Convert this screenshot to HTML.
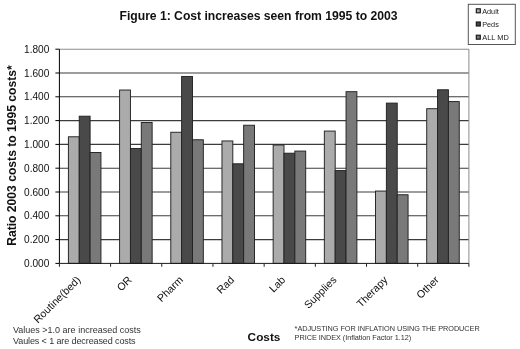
<!DOCTYPE html>
<html><head><meta charset="utf-8"><title>Figure 1</title>
<style>html,body{margin:0;padding:0;background:#fff;}body{width:520px;height:349px;overflow:hidden;position:relative;font-family:"Liberation Sans",sans-serif;}</style></head>
<body>
<svg width="520" height="349" viewBox="0 0 520 349" style="position:absolute;left:0;top:0;will-change:transform;opacity:0.999" font-family="Liberation Sans, sans-serif">
<rect x="0" y="0" width="520" height="349" fill="#fff"/>
<line x1="59.4" x2="468.9" y1="239.60" y2="239.60" stroke="#3c3c3c" stroke-width="1.1"/>
<line x1="59.4" x2="468.9" y1="215.80" y2="215.80" stroke="#3c3c3c" stroke-width="1.1"/>
<line x1="59.4" x2="468.9" y1="192.00" y2="192.00" stroke="#3c3c3c" stroke-width="1.1"/>
<line x1="59.4" x2="468.9" y1="168.20" y2="168.20" stroke="#3c3c3c" stroke-width="1.1"/>
<line x1="59.4" x2="468.9" y1="144.40" y2="144.40" stroke="#3c3c3c" stroke-width="1.1"/>
<line x1="59.4" x2="468.9" y1="120.60" y2="120.60" stroke="#3c3c3c" stroke-width="1.1"/>
<line x1="59.4" x2="468.9" y1="96.80" y2="96.80" stroke="#3c3c3c" stroke-width="1.1"/>
<line x1="59.4" x2="468.9" y1="73.00" y2="73.00" stroke="#3c3c3c" stroke-width="1.1"/>
<line x1="59.4" x2="468.9" y1="49.20" y2="49.20" stroke="#8c8c8c" stroke-width="1.1"/>
<line x1="468.9" x2="468.9" y1="49.2" y2="263.4" stroke="#8c8c8c" stroke-width="1"/>
<rect x="68.40" y="136.78" width="10.85" height="126.62" fill="#ababab" stroke="#222" stroke-width="0.95"/>
<rect x="79.25" y="116.20" width="10.85" height="147.20" fill="#494949" stroke="#222" stroke-width="0.95"/>
<rect x="90.10" y="152.49" width="10.85" height="110.91" fill="#797979" stroke="#222" stroke-width="0.95"/>
<rect x="119.59" y="90.02" width="10.85" height="173.38" fill="#ababab" stroke="#222" stroke-width="0.95"/>
<rect x="130.44" y="148.45" width="10.85" height="114.95" fill="#494949" stroke="#222" stroke-width="0.95"/>
<rect x="141.29" y="122.50" width="10.85" height="140.90" fill="#797979" stroke="#222" stroke-width="0.95"/>
<rect x="170.78" y="132.26" width="10.85" height="131.14" fill="#ababab" stroke="#222" stroke-width="0.95"/>
<rect x="181.62" y="76.45" width="10.85" height="186.95" fill="#494949" stroke="#222" stroke-width="0.95"/>
<rect x="192.47" y="139.76" width="10.85" height="123.64" fill="#797979" stroke="#222" stroke-width="0.95"/>
<rect x="221.96" y="140.95" width="10.85" height="122.45" fill="#ababab" stroke="#222" stroke-width="0.95"/>
<rect x="232.81" y="163.80" width="10.85" height="99.60" fill="#494949" stroke="#222" stroke-width="0.95"/>
<rect x="243.66" y="125.24" width="10.85" height="138.16" fill="#797979" stroke="#222" stroke-width="0.95"/>
<rect x="273.15" y="145.00" width="10.85" height="118.40" fill="#ababab" stroke="#222" stroke-width="0.95"/>
<rect x="284.00" y="153.21" width="10.85" height="110.19" fill="#494949" stroke="#222" stroke-width="0.95"/>
<rect x="294.85" y="151.06" width="10.85" height="112.34" fill="#797979" stroke="#222" stroke-width="0.95"/>
<rect x="324.34" y="131.07" width="10.85" height="132.33" fill="#ababab" stroke="#222" stroke-width="0.95"/>
<rect x="335.19" y="170.58" width="10.85" height="92.82" fill="#494949" stroke="#222" stroke-width="0.95"/>
<rect x="346.04" y="91.68" width="10.85" height="171.72" fill="#797979" stroke="#222" stroke-width="0.95"/>
<rect x="375.52" y="191.05" width="10.85" height="72.35" fill="#ababab" stroke="#222" stroke-width="0.95"/>
<rect x="386.38" y="103.11" width="10.85" height="160.29" fill="#494949" stroke="#222" stroke-width="0.95"/>
<rect x="397.22" y="194.74" width="10.85" height="68.66" fill="#797979" stroke="#222" stroke-width="0.95"/>
<rect x="426.71" y="108.70" width="10.85" height="154.70" fill="#ababab" stroke="#222" stroke-width="0.95"/>
<rect x="437.56" y="89.78" width="10.85" height="173.62" fill="#494949" stroke="#222" stroke-width="0.95"/>
<rect x="448.41" y="101.56" width="10.85" height="161.84" fill="#797979" stroke="#222" stroke-width="0.95"/>
<line x1="59.4" x2="59.4" y1="49.2" y2="263.4" stroke="#000" stroke-width="1"/>
<line x1="59.4" x2="468.9" y1="263.4" y2="263.4" stroke="#1a1a1a" stroke-width="1"/>
<line x1="55.4" x2="59.4" y1="263.40" y2="263.40" stroke="#000" stroke-width="1"/>
<text x="49.3" y="266.90" font-size="10.1" textLength="25.2" text-anchor="end" fill="#111">0.000</text>
<line x1="55.4" x2="59.4" y1="239.60" y2="239.60" stroke="#000" stroke-width="1"/>
<text x="49.3" y="243.10" font-size="10.1" textLength="25.2" text-anchor="end" fill="#111">0.200</text>
<line x1="55.4" x2="59.4" y1="215.80" y2="215.80" stroke="#000" stroke-width="1"/>
<text x="49.3" y="219.30" font-size="10.1" textLength="25.2" text-anchor="end" fill="#111">0.400</text>
<line x1="55.4" x2="59.4" y1="192.00" y2="192.00" stroke="#000" stroke-width="1"/>
<text x="49.3" y="195.50" font-size="10.1" textLength="25.2" text-anchor="end" fill="#111">0.600</text>
<line x1="55.4" x2="59.4" y1="168.20" y2="168.20" stroke="#000" stroke-width="1"/>
<text x="49.3" y="171.70" font-size="10.1" textLength="25.2" text-anchor="end" fill="#111">0.800</text>
<line x1="55.4" x2="59.4" y1="144.40" y2="144.40" stroke="#000" stroke-width="1"/>
<text x="49.3" y="147.90" font-size="10.1" textLength="25.2" text-anchor="end" fill="#111">1.000</text>
<line x1="55.4" x2="59.4" y1="120.60" y2="120.60" stroke="#000" stroke-width="1"/>
<text x="49.3" y="124.10" font-size="10.1" textLength="25.2" text-anchor="end" fill="#111">1.200</text>
<line x1="55.4" x2="59.4" y1="96.80" y2="96.80" stroke="#000" stroke-width="1"/>
<text x="49.3" y="100.30" font-size="10.1" textLength="25.2" text-anchor="end" fill="#111">1.400</text>
<line x1="55.4" x2="59.4" y1="73.00" y2="73.00" stroke="#000" stroke-width="1"/>
<text x="49.3" y="76.50" font-size="10.1" textLength="25.2" text-anchor="end" fill="#111">1.600</text>
<line x1="55.4" x2="59.4" y1="49.20" y2="49.20" stroke="#000" stroke-width="1"/>
<text x="49.3" y="52.70" font-size="10.1" textLength="25.2" text-anchor="end" fill="#111">1.800</text>
<line x1="59.40" x2="59.40" y1="263.4" y2="266.79999999999995" stroke="#222" stroke-width="1"/>
<line x1="110.59" x2="110.59" y1="263.4" y2="266.79999999999995" stroke="#222" stroke-width="1"/>
<line x1="161.78" x2="161.78" y1="263.4" y2="266.79999999999995" stroke="#222" stroke-width="1"/>
<line x1="212.96" x2="212.96" y1="263.4" y2="266.79999999999995" stroke="#222" stroke-width="1"/>
<line x1="264.15" x2="264.15" y1="263.4" y2="266.79999999999995" stroke="#222" stroke-width="1"/>
<line x1="315.34" x2="315.34" y1="263.4" y2="266.79999999999995" stroke="#222" stroke-width="1"/>
<line x1="366.52" x2="366.52" y1="263.4" y2="266.79999999999995" stroke="#222" stroke-width="1"/>
<line x1="417.71" x2="417.71" y1="263.4" y2="266.79999999999995" stroke="#222" stroke-width="1"/>
<line x1="468.90" x2="468.90" y1="263.4" y2="266.79999999999995" stroke="#222" stroke-width="1"/>
<text transform="translate(76.29,275.6) rotate(-45)" font-size="10.6" text-anchor="end" fill="#111" y="7">Routine(bed)</text>
<text transform="translate(127.48,275.6) rotate(-45)" font-size="10.6" text-anchor="end" fill="#111" y="7">OR</text>
<text transform="translate(178.67,275.6) rotate(-45)" font-size="10.6" text-anchor="end" fill="#111" y="7">Pharm</text>
<text transform="translate(229.86,275.6) rotate(-45)" font-size="10.6" text-anchor="end" fill="#111" y="7">Rad</text>
<text transform="translate(281.04,275.6) rotate(-45)" font-size="10.6" text-anchor="end" fill="#111" y="7">Lab</text>
<text transform="translate(332.23,275.6) rotate(-45)" font-size="10.6" text-anchor="end" fill="#111" y="7">Supplies</text>
<text transform="translate(383.42,275.6) rotate(-45)" font-size="10.6" text-anchor="end" fill="#111" y="7">Therapy</text>
<text transform="translate(434.61,275.6) rotate(-45)" font-size="10.6" text-anchor="end" fill="#111" y="7">Other</text>
<text x="258.5" y="20.1" font-size="12.2" textLength="278" font-weight="bold" text-anchor="middle" fill="#111">Figure 1: Cost increases seen from 1995 to 2003</text>
<text transform="translate(16.3,155.5) rotate(-90)" font-size="12.15" textLength="180.6" font-weight="bold" text-anchor="middle" fill="#111">Ratio 2003 costs to 1995 costs*</text>
<text x="247.6" y="341.2" font-size="11.8" textLength="32.8" font-weight="bold" fill="#111">Costs</text>
<text x="13" y="332.5" font-size="9" fill="#333">Values &gt;1.0 are increased costs</text>
<text x="13" y="344" font-size="9" fill="#333" textLength="122.6">Vaules &lt; 1 are decreased costs</text>
<text x="294.6" y="330.7" font-size="7.3" textLength="185.1" fill="#333">*ADJUSTING FOR INFLATION USING THE PRODUCER</text>
<text x="294.6" y="340.3" font-size="7.3" textLength="116.6" fill="#333">PRICE INDEX (Inflation Factor 1.12)</text>
<rect x="468.3" y="4.3" width="47" height="40.2" fill="#fff" stroke="#555" stroke-width="1"/>
<rect x="476.3" y="8.80" width="4" height="4" fill="#ababab" stroke="#111" stroke-width="1.1"/>
<text x="482.2" y="13.80" font-size="7.8" textLength="16.6" lengthAdjust="spacingAndGlyphs" fill="#222">Adult</text>
<rect x="476.3" y="22.00" width="4" height="4" fill="#494949" stroke="#111" stroke-width="1.1"/>
<text x="482.2" y="27.00" font-size="7.8" textLength="16.6" lengthAdjust="spacingAndGlyphs" fill="#222">Peds</text>
<rect x="476.3" y="35.20" width="4" height="4" fill="#797979" stroke="#111" stroke-width="1.1"/>
<text x="482.2" y="40.20" font-size="7.8" textLength="26.6" lengthAdjust="spacingAndGlyphs" fill="#222">ALL MD</text>
</svg>
</body></html>
